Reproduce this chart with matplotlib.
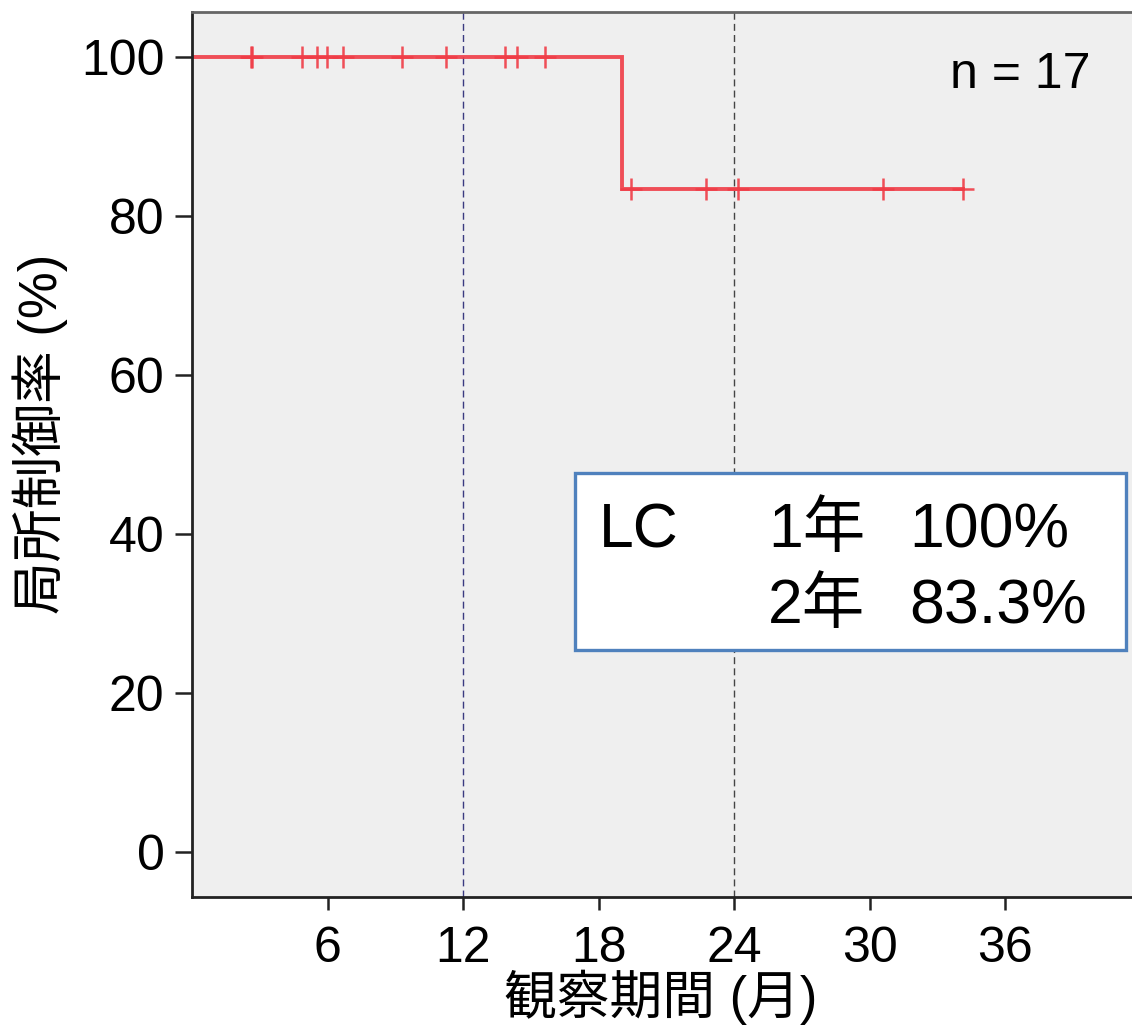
import numpy as np
import matplotlib
matplotlib.use("Agg")
import matplotlib.pyplot as plt
from matplotlib.patches import Rectangle

plt.rcParams['font.family'] = ['Liberation Sans', 'Noto Sans CJK JP', 'DejaVu Sans']

# follow-up times (months)
event_times = [19.04]
censor_times = [2.60, 2.66, 4.87, 5.54, 5.95, 6.69, 9.30, 11.22, 13.85, 14.39, 15.63,
                19.43, 22.75, 24.15, 30.58, 34.13]
x_ticks = [6, 12, 18, 24, 30, 36]
y_ticks = [0, 20, 40, 60, 80, 100]
ref_lines = [12, 24]
n_total = 17
box_rows = [("LC", "1年", "100%"), ("", "2年", "83.3%")]

# kaplan-meier estimate
times = np.array(sorted(set(event_times + censor_times)))
surv = 1.0
km_x, km_y = [0.0], [100.0]
at_risk = n_total
for t in times:
    d = event_times.count(t)
    c = censor_times.count(t)
    if d > 0:
        km_x.append(t); km_y.append(surv * 100)
        surv = surv * (1 - d / at_risk)
        km_x.append(t); km_y.append(surv * 100)
    at_risk -= d + c
km_x.append(max(censor_times)); km_y.append(surv * 100)

def surv_at(t):
    return km_y[np.searchsorted(km_x, t, side='right') - 1]

cens_y = [surv_at(t) for t in censor_times]

W, H = 1132, 1027
ext = 20  # axes runs past the right edge
fig = plt.figure(figsize=(W / 100, H / 100), dpi=100)
ax = fig.add_axes([192.3 / W, 1 - 897 / H, (W + ext - 192.3) / W, (897 - 12) / H])
ax.set_facecolor('#efefef')
ax.set_xlim(0, (W + ext - 192.3) / 22.58)
ax.set_ylim(-5.66, 105.6)

ax.axvline(ref_lines[0], color='#3a3a80', lw=1.0, ls=(0, (5, 3)))
ax.axvline(ref_lines[1], color='#444444', lw=1.0, ls=(0, (5, 3)))

ax.plot(km_x, km_y, color='#f03c46', lw=2.8, alpha=0.9, solid_joinstyle='miter')
ax.plot(censor_times, cens_y, ls='none', marker='+', ms=16, mew=1.8, color='#f03c46', alpha=0.9)

ax.set_xticks(x_ticks)
ax.set_yticks(y_ticks)
ax.tick_params(axis='both', labelsize=36, width=1.8, color='#222222')
ax.tick_params(axis='y', length=12, pad=8)
ax.tick_params(axis='x', length=9, pad=12)

ax.spines['right'].set_visible(False)
ax.spines['top'].set_color('#666666')
ax.spines['top'].set_linewidth(2)
ax.spines['left'].set_color('#222222')
ax.spines['left'].set_linewidth(2)
ax.spines['bottom'].set_color('#222222')
ax.spines['bottom'].set_linewidth(2)

fig.text(40 / W, 1 - 434 / H, "局所制御率 (%)", rotation=90, ha='center', va='center', fontsize=38)
fig.text(661 / W, 1 - 997 / H, "観察期間 (月)", ha='center', va='center', fontsize=38)
fig.text(1090 / W, 1 - 88 / H, "n = " + str(n_total), ha='right', va='baseline', fontsize=36)

# summary box
box = Rectangle((575 / W, 1 - 650 / H), (1126 - 575) / W, (650 - 473) / H, transform=fig.transFigure,
                facecolor='white', edgecolor='#4f81bd', lw=2.4, zorder=5)
fig.patches.append(box)
for (a, b, c), base in zip(box_rows, [547, 623]):
    fig.text(599 / W, 1 - base / H, a, ha='left', va='baseline', fontsize=45, zorder=6)
    fig.text(768 / W, 1 - base / H, b, ha='left', va='baseline', fontsize=45, zorder=6)
    fig.text(909 / W, 1 - base / H, c, ha='left', va='baseline', fontsize=45, zorder=6)

fig.savefig("out.png", dpi=100)
